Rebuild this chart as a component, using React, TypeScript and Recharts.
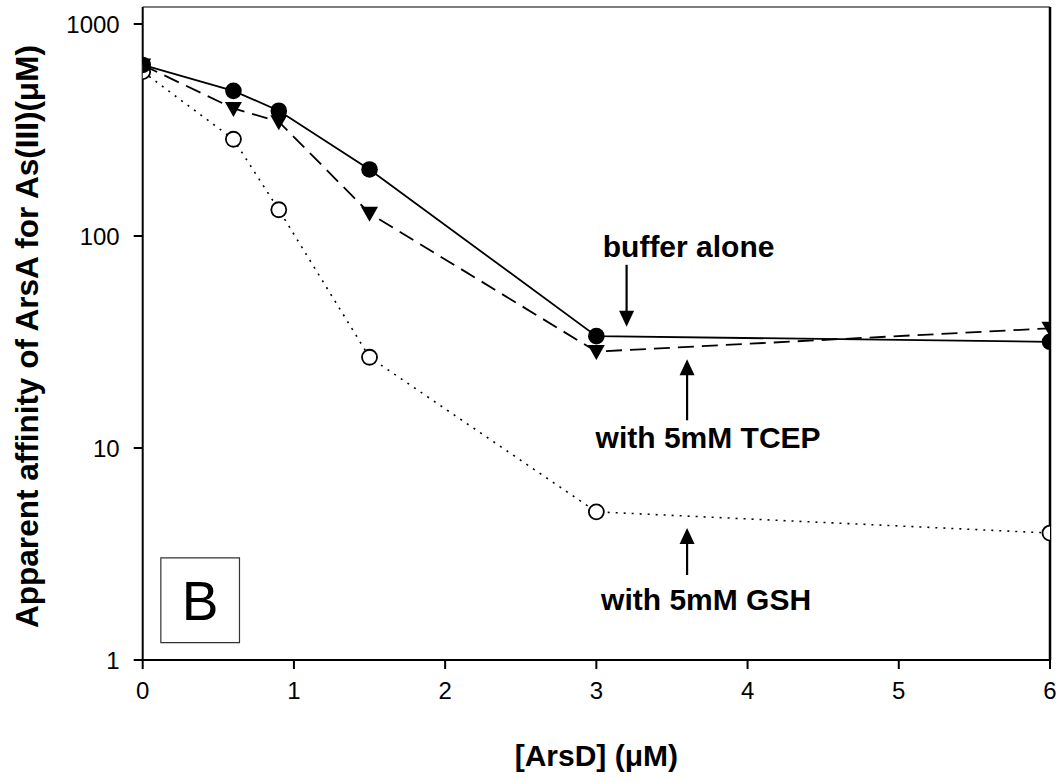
import React from 'react';
import {
  LineChart, Line, XAxis, YAxis, ReferenceLine, ReferenceArea, ReferenceDot,
} from 'recharts';

const xValues = [0, 0.6, 0.9, 1.5, 3, 6];
const bufferAlone = [641, 484, 390, 206, 33.7, 31.7];
const withTCEP = [640, 400, 346, 128, 28.5, 36.7];
const withGSH = [596, 286, 133, 26.8, 5.0, 3.97];
const xTicks = [0, 1, 2, 3, 4, 5, 6];
const yTicks = [1, 10, 100, 1000];
const yTop = 1203;

const data = xValues.map((x, i) => ({
  x,
  buffer: bufferAlone[i],
  tcep: withTCEP[i],
  gsh: withGSH[i],
}));

const FONT = '"Liberation Sans", Arial, Helvetica, sans-serif';

const filledCircle = (p: any) => (
  <circle key={`fc-${p.index}`} cx={p.cx} cy={p.cy} r={8.3} fill="#000" stroke="none" />
);
const openCircle = (p: any) => (
  <circle key={`oc-${p.index}`} cx={p.cx} cy={p.cy} r={7.5} fill="#fff" stroke="#000" strokeWidth={1.8} />
);
const triDown = (p: any) => (
  <polygon
    key={`td-${p.index}`}
    points={`${p.cx - 8.5},${p.cy - 6.5} ${p.cx + 8.5},${p.cy - 6.5} ${p.cx},${p.cy + 8.5}`}
    fill="#000"
    stroke="none"
  />
);

const annotations = [
  { text: 'buffer alone', x: 3.2, y: 37.3, dir: 'down', shaft: 62, textDx: 62, textDy: -70 },
  { text: 'with 5mM TCEP', x: 3.6, y: 26.2, dir: 'up', shaft: 61, textDx: 21, textDy: 89 },
  { text: 'with 5mM GSH', x: 3.6, y: 4.195, dir: 'up', shaft: 47, textDx: 19, textDy: 82 },
];

const makeArrowShape = (a: any) => (p: any) => {
  const { cx, cy } = p;
  const s = a.dir === 'down' ? -1 : 1;
  const head = 16;
  return (
    <g>
      <line x1={cx} y1={cy + s * (head - 1)} x2={cx} y2={cy + s * a.shaft} stroke="#000" strokeWidth={2.2} />
      <polygon
        points={`${cx - 7.5},${cy + s * head} ${cx + 7.5},${cy + s * head} ${cx},${cy}`}
        fill="#000"
      />
      <text
        x={cx + a.textDx}
        y={cy + a.textDy}
        textAnchor="middle"
        fontFamily={FONT}
        fontWeight="bold"
        fontSize={30}
        fill="#000"
      >
        {a.text}
      </text>
    </g>
  );
};

export default function App() {
  return (
    <div style={{ position: 'absolute', left: 0, top: 0, width: 1058, height: 782, background: '#fff' }}>
      <LineChart
        width={1058}
        height={782}
        data={data}
        margin={{ top: 7, right: 8, bottom: 0, left: 0 }}
      >
        <XAxis
          dataKey="x"
          type="number"
          domain={[0, 6]}
          ticks={xTicks}
          allowDataOverflow
          height={122}
          tickSize={9}
          tickMargin={13}
          axisLine={{ stroke: '#000', strokeWidth: 2 }}
          tickLine={{ stroke: '#000', strokeWidth: 2 }}
          tick={{ fontSize: 24, fill: '#000', fontFamily: FONT }}
          label={{
            content: (props: any) => {
              const vb = props.viewBox || {};
              return (
                <text
                  x={vb.x + vb.width / 2}
                  y={vb.y + 106}
                  textAnchor="middle"
                  fontFamily={FONT}
                  fontWeight="bold"
                  fontSize={30}
                  fill="#000"
                >
                  [ArsD] (μM)
                </text>
              );
            },
          }}
        />
        <YAxis
          type="number"
          scale="log"
          domain={[1, yTop]}
          ticks={yTicks}
          allowDataOverflow
          width={142.7}
          tickSize={9}
          tickMargin={14}
          axisLine={{ stroke: '#000', strokeWidth: 2 }}
          tickLine={{ stroke: '#000', strokeWidth: 2 }}
          tick={{ fontSize: 24, fill: '#000', fontFamily: FONT }}
          label={{
            content: (props: any) => {
              const vb = props.viewBox || {};
              const cx = vb.x + 27;
              const cy = vb.y + vb.height / 2 + 3;
              return (
                <text
                  x={cx}
                  y={cy}
                  textAnchor="middle"
                  dominantBaseline="central"
                  transform={`rotate(-90, ${cx}, ${cy})`}
                  fontFamily={FONT}
                  fontWeight="bold"
                  fontSize={31.5}
                  fill="#000"
                >
                  Apparent affinity of ArsA for As(III)(μM)
                </text>
              );
            },
          }}
        />
        <ReferenceLine y={yTop} stroke="#555" strokeWidth={1.5} ifOverflow="visible" />
        <ReferenceLine x={6} stroke="#000" strokeWidth={2.5} ifOverflow="visible" />
        <ReferenceArea
          x1={0.12}
          x2={0.64}
          y1={1.207}
          y2={3.03}
          fill="none"
          stroke="#333"
          strokeWidth={1.2}
          ifOverflow="visible"
          label={{
            content: (props: any) => {
              const vb = props.viewBox || {};
              return (
                <text
                  x={vb.x + vb.width / 2}
                  y={vb.y + vb.height / 2 + 20}
                  textAnchor="middle"
                  fontFamily={FONT}
                  fontSize={55}
                  fill="#000"
                >
                  B
                </text>
              );
            },
          }}
        />
        <Line
          dataKey="gsh"
          stroke="#000"
          strokeWidth={1.6}
          strokeDasharray="2 6"
          dot={openCircle}
          activeDot={false}
          isAnimationActive={false}
        />
        <Line
          dataKey="buffer"
          stroke="#000"
          strokeWidth={1.8}
          dot={filledCircle}
          activeDot={false}
          isAnimationActive={false}
        />
        <Line
          dataKey="tcep"
          stroke="#000"
          strokeWidth={1.8}
          strokeDasharray="16 8"
          dot={triDown}
          activeDot={false}
          isAnimationActive={false}
        />
        {annotations.map((a) => (
          <ReferenceDot
            key={a.text}
            x={a.x}
            y={a.y}
            r={0}
            ifOverflow="visible"
            shape={makeArrowShape(a)}
          />
        ))}
      </LineChart>
    </div>
  );
}
